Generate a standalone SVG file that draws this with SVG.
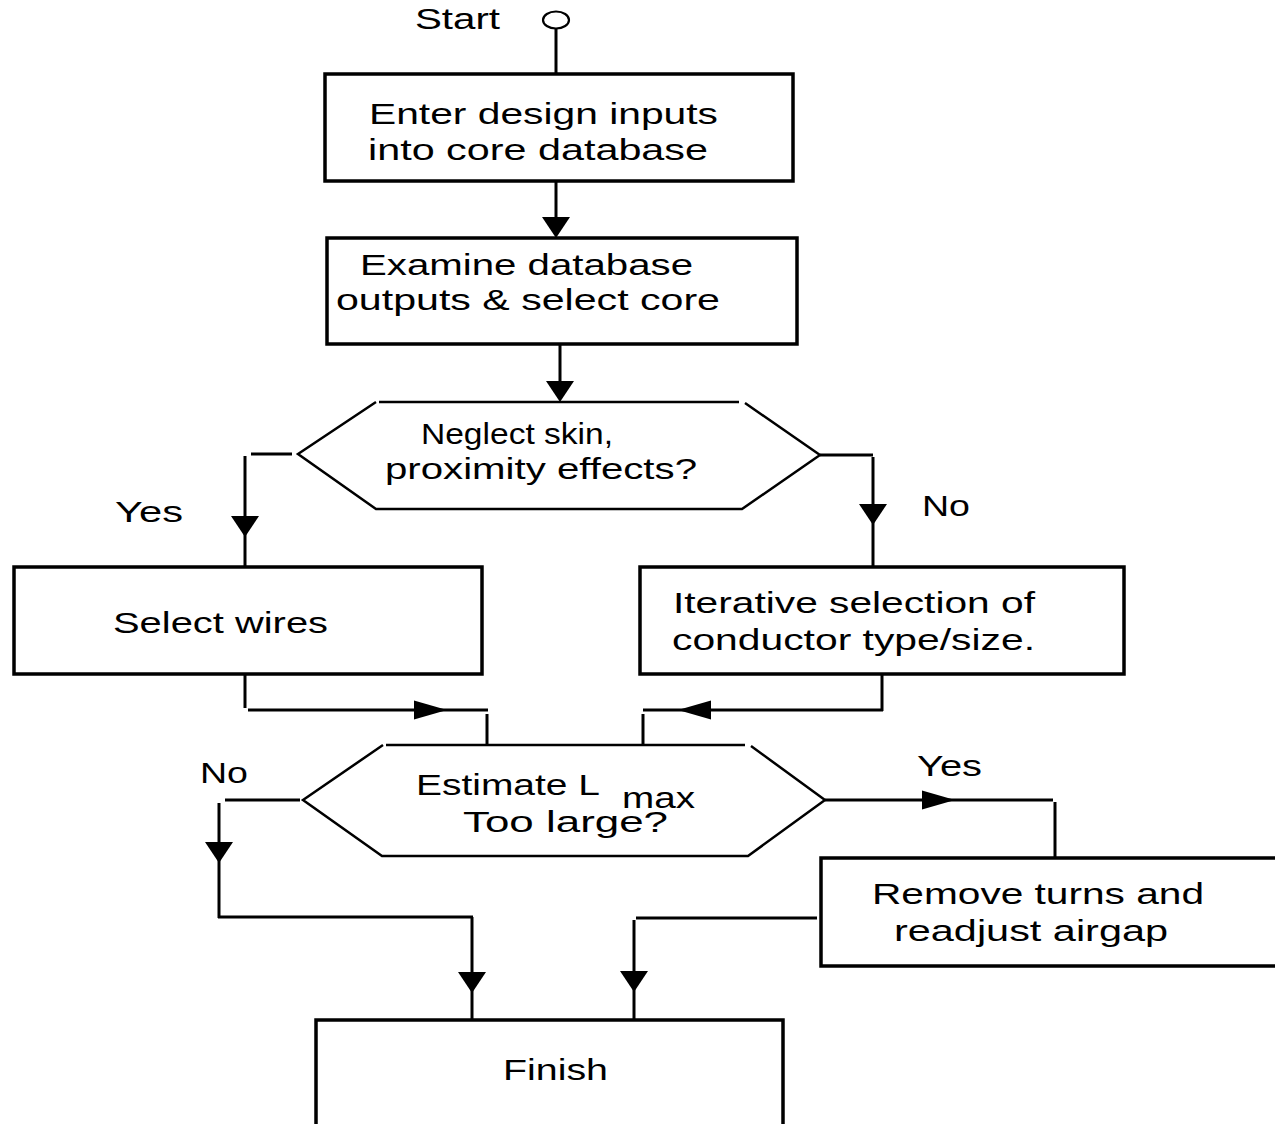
<svg xmlns="http://www.w3.org/2000/svg" xmlns:xlink="http://www.w3.org/1999/xlink" width="1275" height="1124" viewBox="0 0 1275 1124">
  <style>
    .box { fill: none; stroke: #000; stroke-width: 3.5; }
    .hex { fill: none; stroke: #000; stroke-width: 2.5; stroke-linejoin: miter; }
    .ln { fill: none; stroke: #000; stroke-width: 3; }
    .ah { fill: #000; stroke: none; }
    text { font-family: "Liberation Sans", Arial, sans-serif; font-size: 30px; fill: #000; }
  </style>
  <defs>
    <!-- arrowheads, tip at the origin -->
    <path id="ahDown" class="ah" d="M-14,-21 L14,-21 L0,0 Z"/>
    <path id="ahRight" class="ah" d="M-33,-9.5 L-33,9.5 L0,0 Z"/>
    <path id="ahLeft" class="ah" d="M33,-9.5 L33,9.5 L0,0 Z"/>
  </defs>

  <g id="start">
    <ellipse cx="556" cy="20" rx="13" ry="8.5" fill="none" stroke="#000" stroke-width="2.2"/>
    <text x="415" y="29" textLength="85" lengthAdjust="spacingAndGlyphs">Start</text>
  </g>

  <g id="enter-inputs">
    <rect class="box" x="325" y="74" width="468" height="107"/>
    <text x="369" y="124" textLength="349" lengthAdjust="spacingAndGlyphs">Enter design inputs</text>
    <text x="368" y="160" textLength="340" lengthAdjust="spacingAndGlyphs">into core database</text>
  </g>

  <g id="select-core">
    <rect class="box" x="327" y="238" width="470" height="106"/>
    <text x="360" y="275" textLength="333" lengthAdjust="spacingAndGlyphs">Examine database</text>
    <text x="336" y="310" textLength="384" lengthAdjust="spacingAndGlyphs">outputs &amp; select core</text>
  </g>

  <g id="decision-skin">
    <path class="hex" d="M376,402 L298,454 L376,509 L742,509 L820,455 M379,402 L739,402 M745,403 L820,455"/>
    <text x="421" y="444" textLength="192" lengthAdjust="spacingAndGlyphs">Neglect skin,</text>
    <text x="385" y="479" textLength="312" lengthAdjust="spacingAndGlyphs">proximity effects?</text>
  </g>

  <g id="select-wires">
    <rect class="box" x="14" y="567" width="468" height="107"/>
    <text x="113" y="633" textLength="215" lengthAdjust="spacingAndGlyphs">Select wires</text>
  </g>

  <g id="iterative-selection">
    <rect class="box" x="640" y="567" width="484" height="107"/>
    <text x="673" y="613" textLength="362" lengthAdjust="spacingAndGlyphs">Iterative selection of</text>
    <text x="672" y="650" textLength="363" lengthAdjust="spacingAndGlyphs">conductor type/size.</text>
  </g>

  <g id="decision-lmax">
    <path class="hex" d="M383,745 L303,800 L382,856 L748,856 L825,800 M386,745 L745,745 M751,746 L825,800"/>
    <text x="416" y="795" textLength="184" lengthAdjust="spacingAndGlyphs">Estimate L</text>
    <text x="622" y="808" textLength="73" lengthAdjust="spacingAndGlyphs">max</text>
    <text x="463" y="832" textLength="205" lengthAdjust="spacingAndGlyphs">Too large?</text>
  </g>

  <g id="remove-turns">
    <rect class="box" x="821" y="858" width="470" height="108"/>
    <text x="872" y="904" textLength="332" lengthAdjust="spacingAndGlyphs">Remove turns and</text>
    <text x="894" y="941" textLength="274" lengthAdjust="spacingAndGlyphs">readjust airgap</text>
  </g>

  <g id="finish">
    <path class="box" d="M316,1130 V1020 H783 V1130"/>
    <text x="503" y="1080" textLength="105" lengthAdjust="spacingAndGlyphs">Finish</text>
  </g>

  <g id="connectors">
    <!-- start to first box -->
    <line class="ln" x1="556" y1="28" x2="556" y2="74"/>
    <!-- box to box -->
    <line class="ln" x1="556" y1="181" x2="556" y2="230"/>
    <use xlink:href="#ahDown" x="556" y="238"/>
    <line class="ln" x1="560" y1="344" x2="560" y2="395"/>
    <use xlink:href="#ahDown" x="560" y="402"/>

    <!-- first decision: yes branch -->
    <line class="ln" x1="251" y1="454" x2="292" y2="454"/>
    <line class="ln" x1="245" y1="456" x2="245" y2="567"/>
    <use xlink:href="#ahDown" x="245" y="537"/>
    <text x="115" y="522" textLength="68" lengthAdjust="spacingAndGlyphs">Yes</text>

    <!-- first decision: no branch -->
    <line class="ln" x1="820" y1="455" x2="873" y2="455"/>
    <line class="ln" x1="873" y1="457" x2="873" y2="567"/>
    <use xlink:href="#ahDown" x="873" y="525"/>
    <text x="922" y="516" textLength="48" lengthAdjust="spacingAndGlyphs">No</text>

    <!-- merge into second decision -->
    <line class="ln" x1="245" y1="674" x2="245" y2="708"/>
    <line class="ln" x1="248" y1="710" x2="488" y2="710"/>
    <use xlink:href="#ahRight" x="447" y="710"/>
    <line class="ln" x1="487" y1="714" x2="487" y2="745"/>

    <line class="ln" x1="882" y1="674" x2="882" y2="711"/>
    <line class="ln" x1="643" y1="710" x2="883" y2="710"/>
    <use xlink:href="#ahLeft" x="678" y="710"/>
    <line class="ln" x1="643" y1="714" x2="643" y2="745"/>

    <!-- second decision: no branch -->
    <line class="ln" x1="225" y1="800" x2="300" y2="800"/>
    <line class="ln" x1="219" y1="803" x2="219" y2="918"/>
    <use xlink:href="#ahDown" x="219" y="863"/>
    <text x="200" y="783" textLength="48" lengthAdjust="spacingAndGlyphs">No</text>
    <line class="ln" x1="218" y1="917" x2="473" y2="917"/>
    <line class="ln" x1="472" y1="917" x2="472" y2="1020"/>
    <use xlink:href="#ahDown" x="472" y="993"/>

    <!-- second decision: yes branch -->
    <line class="ln" x1="825" y1="800" x2="1053" y2="800"/>
    <use xlink:href="#ahRight" x="955" y="800"/>
    <text x="917" y="776" textLength="65" lengthAdjust="spacingAndGlyphs">Yes</text>
    <line class="ln" x1="1055" y1="802" x2="1055" y2="858"/>

    <!-- back to finish -->
    <line class="ln" x1="636" y1="918" x2="817" y2="918"/>
    <line class="ln" x1="634" y1="920" x2="634" y2="1020"/>
    <use xlink:href="#ahDown" x="634" y="992"/>
  </g>
</svg>
